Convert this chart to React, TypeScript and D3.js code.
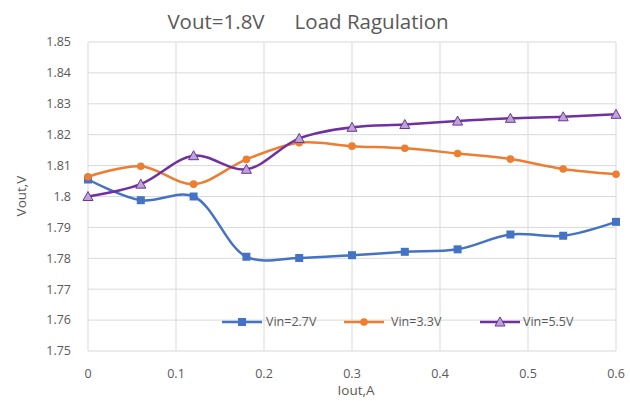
import React from "react";
import * as d3 from "d3";

const iout = [0, 0.06, 0.12, 0.18, 0.24, 0.3, 0.36, 0.42, 0.48, 0.54, 0.6];
const vin27 = [1.8055, 1.7988, 1.8, 1.7805, 1.7801, 1.781, 1.7821, 1.7829, 1.7877, 1.7873, 1.7918];
const vin33 = [1.8064, 1.8098, 1.804, 1.812, 1.8174, 1.8163, 1.8156, 1.8139, 1.8121, 1.8089, 1.8072];
const vin55 = [1.8, 1.804, 1.8132, 1.8088, 1.8188, 1.8224, 1.8233, 1.8244, 1.8253, 1.8258, 1.8266];
const xTicks = [0, 0.1, 0.2, 0.3, 0.4, 0.5, 0.6];
const yTicks = [1.75, 1.76, 1.77, 1.78, 1.79, 1.8, 1.81, 1.82, 1.83, 1.84, 1.85];

const series = [
  { name: "Vin=2.7V", values: vin27, color: "#4472C4", marker: "square" },
  { name: "Vin=3.3V", values: vin33, color: "#ED7D31", marker: "circle" },
  { name: "Vin=5.5V", values: vin55, color: "#7030A0", marker: "triangle" },
];

const W = 630;
const H = 401;
const FONT = "Open Sans, sans-serif";
const GREY = "#595959";

const Marker: React.FC<{ type: string; x: number; y: number; color: string }> = ({ type, x, y, color }) => {
  if (type === "square") {
    return <rect x={x - 4} y={y - 4} width={8} height={8} fill={color} />;
  }
  if (type === "circle") {
    return <circle cx={x} cy={y} r={3.8} fill={color} />;
  }
  const s = 5;
  return (
    <path
      d={`M${x},${y - s}L${x + s},${y + s * 0.8}L${x - s},${y + s * 0.8}Z`}
      fill="#b9a6d2"
      stroke={color}
      strokeWidth={1}
    />
  );
};

export default function App() {
  const x = d3.scaleLinear().domain([0, 0.6]).range([88, 616]);
  const y = d3.scaleLinear().domain([1.75, 1.85]).range([351, 42]);

  const lineGen = d3
    .line<number>()
    .x((_, i) => x(iout[i]))
    .y((d) => y(d))
    .curve(d3.curveCatmullRom.alpha(0.5));

  const legendItems = [
    { lx: 222, tx: 266 },
    { lx: 344, tx: 391 },
    { lx: 480, tx: 523 },
  ];

  return (
    <svg width={W} height={H} style={{ position: "absolute", left: 0, top: 0 }} fontFamily={FONT}>
      <rect width={W} height={H} fill="#fff" />
      <text x={308} y={29} textAnchor="middle" fontSize={20.5} fill={GREY}>
        <tspan>Vout=1.8V</tspan>
        <tspan dx={30}>Load Ragulation</tspan>
      </text>

      {yTicks.map((t) => (
        <g key={t}>
          <line x1={x(0)} x2={x(0.6)} y1={y(t)} y2={y(t)} stroke="#d9d9d9" strokeWidth={1} />
          <text x={71} y={y(t)} dy="0.35em" textAnchor="end" fontSize={12.5} fill={GREY}>
            {String(+t.toFixed(2))}
          </text>
        </g>
      ))}
      {xTicks.map((t) => (
        <g key={t}>
          <line x1={x(t)} x2={x(t)} y1={y(1.85)} y2={y(1.75)} stroke="#d9d9d9" strokeWidth={1} />
          <text x={x(t)} y={378} textAnchor="middle" fontSize={12.5} fill={GREY}>
            {String(+t.toFixed(1))}
          </text>
        </g>
      ))}

      {series.map((s) => (
        <g key={s.name}>
          <path d={lineGen(s.values)!} fill="none" stroke={s.color} strokeWidth={2.5} />
          {s.values.map((v, i) => (
            <Marker key={i} type={s.marker} x={x(iout[i])} y={y(v)} color={s.color} />
          ))}
        </g>
      ))}

      {series.map((s, i) => (
        <g key={s.name}>
          <line x1={legendItems[i].lx} x2={legendItems[i].lx + 40} y1={322} y2={322} stroke={s.color} strokeWidth={2.5} />
          <Marker type={s.marker} x={legendItems[i].lx + 20} y={322} color={s.color} />
          <text x={legendItems[i].tx} y={322} dy="0.35em" fontSize={12.5} fill={GREY}>
            {s.name}
          </text>
        </g>
      ))}

      <text x={356} y={395} textAnchor="middle" fontSize={13.5} fill={GREY}>
        Iout,A
      </text>
      <text transform={`translate(26,196) rotate(-90)`} textAnchor="middle" fontSize={13.5} fill={GREY}>
        Vout,V
      </text>
    </svg>
  );
}
